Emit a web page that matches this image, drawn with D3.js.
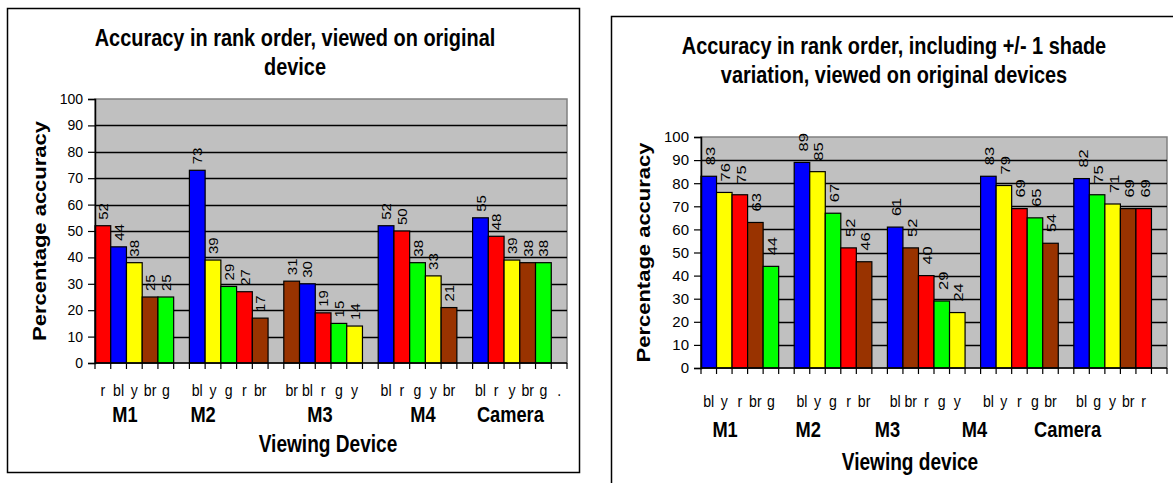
<!DOCTYPE html>
<html>
<head>
<meta charset="utf-8">
<script src="https://cdn.jsdelivr.net/npm/d3@7"></script>
<style>
  html, body { margin: 0; padding: 0; background: #fff; }
  svg { display: block; }
  text { font-family: "Liberation Sans", Arial, sans-serif; fill: #000; }
</style>
</head>
<body>
<svg id="chart" width="1173" height="483"></svg>
<script>
// ---------- DATA ----------
const groups = ["M1", "M2", "M3", "M4", "Camera"];
const yTicks = [0, 10, 20, 30, 40, 50, 60, 70, 80, 90, 100];

// Chart 1: Accuracy in rank order, viewed on original device
const leftTitle = ["Accuracy in rank order, viewed on original", "device"];
const leftColours = [
  ["r", "bl", "y", "br", "g"],
  ["bl", "y", "g", "r", "br"],
  ["br", "bl", "r", "g", "y"],
  ["bl", "r", "g", "y", "br"],
  ["bl", "r", "y", "br", "g"]
];
const leftValues = [
  [52, 44, 38, 25, 25],
  [73, 39, 29, 27, 17],
  [31, 30, 19, 15, 14],
  [52, 50, 38, 33, 21],
  [55, 48, 39, 38, 38]
];
const leftTrailer = ".";

// Chart 2: including +/- 1 shade variation
const rightTitle = ["Accuracy in rank order, including +/- 1 shade", "variation, viewed on original devices"];
const rightColours = [
  ["bl", "y", "r", "br", "g"],
  ["bl", "y", "g", "r", "br"],
  ["bl", "br", "r", "g", "y"],
  ["bl", "y", "r", "g", "br"],
  ["bl", "g", "y", "br", "r"]
];
const rightValues = [
  [83, 76, 75, 63, 44],
  [89, 85, 67, 52, 46],
  [61, 52, 40, 29, 24],
  [83, 79, 69, 65, 54],
  [82, 75, 71, 69, 69]
];
const rightTrailer = "";

const colourMap = { r: "#FF0000", bl: "#0000FF", y: "#FFFF00", br: "#993300", g: "#00FF00" };

// ---------- LAYOUT ----------
const svg = d3.select("#chart");
const SX = 0.83; // horizontal squeeze of the original rendering

const layouts = [
  {
    frame: { x0: 7, y0: 8, x1: 579, y1: 472 },
    plot: { x0: 95, x1: 567, top: 99, bottom: 363 },
    title: leftTitle, titleX: 295, titleY: [46, 75],
    yTitle: "Percentage accuracy", yTitleX: 46,
    xTitle: "Viewing Device", xTitleX: 328, xTitleY: 452,
    catY: 396, groupY: 422, groupPos: [1.9, 6.87, 14.3, 20.85, 26.4],
    valSize: 15, valGap: 6, tickSize: 14,
    colours: leftColours, values: leftValues, trailer: leftTrailer
  },
  {
    frame: { x0: 611, y0: 16, x1: 1185, y1: 495 },
    plot: { x0: 701, x1: 1167, top: 137, bottom: 368 },
    title: rightTitle, titleX: 894, titleY: [54, 83],
    yTitle: "Percentage accuracy", yTitleX: 650,
    xTitle: "Viewing device", xTitleX: 910, xTitleY: 470,
    catY: 407, groupY: 437, groupPos: [1.55, 6.9, 12.0, 17.6, 23.6],
    valSize: 16.5, valGap: 11, tickSize: 15,
    colours: rightColours, values: rightValues, trailer: rightTrailer
  }
];

function squeezed(sel, x, y) {
  return sel.attr("transform", `translate(${x},${y}) scale(${SX},1)`);
}

layouts.forEach(L => {
  const g = svg.append("g");

  // categories: 5 bars per group + one spacer slot after each group
  const cats = [];
  groups.forEach((grp, gi) => {
    L.colours[gi].forEach((c, ci) => cats.push({ id: gi + "-" + ci, label: c, colour: colourMap[c], value: L.values[gi][ci] }));
    cats.push({ id: gi + "-s", label: gi === groups.length - 1 ? L.trailer : "", colour: null, value: null });
  });

  const x = d3.scaleBand().domain(cats.map(d => d.id)).range([L.plot.x0, L.plot.x1]).paddingInner(0).paddingOuter(0);
  const y = d3.scaleLinear().domain([0, 100]).range([L.plot.bottom, L.plot.top]);
  const bw = x.bandwidth();
  const xPos = u => L.plot.x0 + u * bw;

  // outer frame
  g.append("rect")
    .attr("x", L.frame.x0 + 0.5).attr("y", L.frame.y0 + 0.5)
    .attr("width", L.frame.x1 - L.frame.x0).attr("height", L.frame.y1 - L.frame.y0)
    .attr("fill", "#fff").attr("stroke", "#000").attr("stroke-width", 1.5);

  // plot area
  g.append("rect")
    .attr("x", L.plot.x0).attr("y", L.plot.top)
    .attr("width", L.plot.x1 - L.plot.x0).attr("height", L.plot.bottom - L.plot.top)
    .attr("fill", "#C0C0C0").attr("stroke", "#808080").attr("stroke-width", 1.5);

  // gridlines
  g.append("g").selectAll("line").data(yTicks.filter(t => t > 0 && t < 100)).join("line")
    .attr("x1", L.plot.x0).attr("x2", L.plot.x1)
    .attr("y1", d => Math.round(y(d)) + 0.5).attr("y2", d => Math.round(y(d)) + 0.5)
    .attr("stroke", "#000").attr("stroke-width", 1.5);

  // bars
  g.append("g").selectAll("rect").data(cats.filter(d => d.value !== null)).join("rect")
    .attr("x", d => x(d.id)).attr("y", d => y(d.value))
    .attr("width", bw).attr("height", d => y(0) - y(d.value))
    .attr("fill", d => d.colour).attr("stroke", "#000").attr("stroke-width", 1.2);

  // value labels (rotated)
  g.append("g").selectAll("text").data(cats.filter(d => d.value !== null)).join("text")
    .attr("transform", d => `translate(${x(d.id) + bw / 2 + 1},${y(d.value) - L.valGap}) rotate(-90) scale(1,${SX})`)
    .attr("dominant-baseline", "central")
    .attr("text-anchor", "start")
    .style("font-size", L.valSize + "px")
    .text(d => d.value);

  // y axis
  const yAxis = d3.axisLeft(y).tickValues(yTicks).tickSize(7).tickPadding(5);
  const ya = g.append("g").attr("transform", `translate(${L.plot.x0},0)`).call(yAxis);
  ya.select(".domain").attr("stroke", "#000").attr("stroke-width", 1.5);
  ya.selectAll(".tick line").attr("stroke", "#000").attr("stroke-width", 1.2);
  ya.selectAll(".tick text").style("font-size", L.tickSize + "px").style("font-family", "Liberation Sans, Arial, sans-serif").attr("fill", "#000");

  // x axis line + category tick marks at slot boundaries
  g.append("line").attr("x1", L.plot.x0).attr("x2", L.plot.x1)
    .attr("y1", L.plot.bottom).attr("y2", L.plot.bottom).attr("stroke", "#000").attr("stroke-width", 1.5);
  const bounds = d3.range(cats.length + 1);
  g.append("g").selectAll("line").data(bounds).join("line")
    .attr("x1", i => xPos(i)).attr("x2", i => xPos(i))
    .attr("y1", L.plot.bottom).attr("y2", L.plot.bottom + 6)
    .attr("stroke", "#000").attr("stroke-width", 1.2);

  // category labels
  g.append("g").selectAll("text").data(cats).join("text")
    .each(function (d) { squeezed(d3.select(this), x(d.id) + bw / 2, L.catY); })
    .attr("text-anchor", "middle")
    .style("font-size", "17px")
    .text(d => d.label);

  // group labels
  g.append("g").selectAll("text").data(groups).join("text")
    .each(function (d, i) { squeezed(d3.select(this), xPos(L.groupPos[i]), L.groupY); })
    .attr("text-anchor", "middle")
    .style("font-size", "22px").style("font-weight", "bold")
    .text(d => d);

  // title
  g.append("g").selectAll("text").data(L.title).join("text")
    .each(function (d, i) { squeezed(d3.select(this), L.titleX, L.titleY[i]); })
    .attr("text-anchor", "middle")
    .style("font-size", "24px").style("font-weight", "bold")
    .text(d => d);

  // axis titles
  g.append("text")
    .attr("transform", `translate(${L.yTitleX},${(L.plot.top + L.plot.bottom) / 2}) rotate(-90) scale(1,${SX})`)
    .attr("text-anchor", "middle")
    .style("font-size", "22px").style("font-weight", "bold")
    .text(L.yTitle);

  squeezed(g.append("text"), L.xTitleX, L.xTitleY)
    .attr("text-anchor", "middle")
    .style("font-size", "23px").style("font-weight", "bold")
    .text(L.xTitle);
});
</script>
</body>
</html>
